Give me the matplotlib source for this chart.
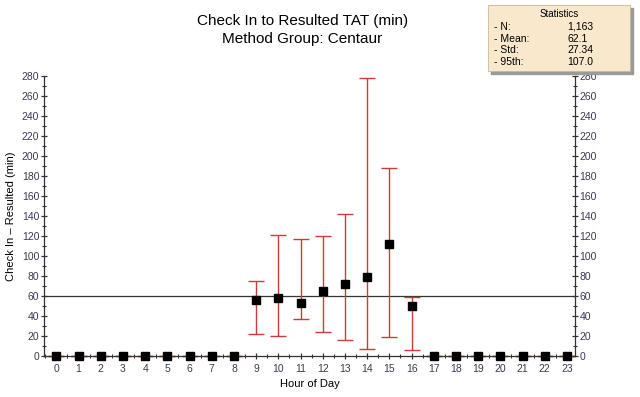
import matplotlib
matplotlib.use("Agg")
import matplotlib.pyplot as plt
from matplotlib.patches import Rectangle
from matplotlib.ticker import MultipleLocator

plt.rcParams['font.family'] = ['Liberation Sans', 'DejaVu Sans']

# --- dane ---
godziny = list(range(24))
srednie = [0, 0, 0, 0, 0, 0, 0, 0, 0, 56, 58, 53, 65, 72, 79, 112, 50,
           0, 0, 0, 0, 0, 0, 0]
gora = [0, 0, 0, 0, 0, 0, 0, 0, 0, 75, 121, 117, 120, 142, 278, 188, 59,
        0, 0, 0, 0, 0, 0, 0]
dol = [0, 0, 0, 0, 0, 0, 0, 0, 0, 22, 20, 37, 24, 16, 7, 19, 6,
       0, 0, 0, 0, 0, 0, 0]
linia_ref = 60
staty_nazwy = ['- N:', '- Mean:', '- Std:', '- 95th:']
staty_wartosci = ['1,163', '62.1', '27.34', '107.0']
# ------------

err_dol = [s - d for s, d in zip(srednie, dol)]
err_gora = [g - s for s, g in zip(srednie, gora)]

fig = plt.figure(figsize=(6.4, 3.97), dpi=100)
ax = fig.add_axes([0.069, 0.103, 0.829, 0.706])

ax.axhline(linia_ref, color='#333333', lw=0.9, zorder=1)
ax.errorbar(godziny, srednie, yerr=[err_dol, err_gora], fmt='none',
            ecolor='#cc3a3a', elinewidth=1.0, capsize=6, capthick=1.0,
            zorder=2, clip_on=False)
ax.plot(godziny, srednie, 's', color='black', ms=6, zorder=3, clip_on=False)

ax.set_xlim(-0.55, 23.35)
ax.set_ylim(0, 280)
ax.set_xticks(godziny)
ax.xaxis.set_minor_locator(MultipleLocator(0.5))
ax.yaxis.set_major_locator(MultipleLocator(20))
ax.yaxis.set_minor_locator(MultipleLocator(10))

ax.spines['top'].set_visible(False)
for s in ['left', 'right', 'bottom']:
    ax.spines[s].set_color('#333333')
    ax.spines[s].set_linewidth(0.9)

ax.tick_params(axis='both', which='major', direction='inout', length=5,
               width=0.9, color='#333333', labelsize=7.5, labelcolor='#3a3a55')
ax.tick_params(axis='both', which='minor', direction='inout', length=3,
               width=0.8, color='#333333')
ax.tick_params(axis='y', which='both', right=True, labelright=True)
ax.tick_params(axis='y', pad=1)
ax.tick_params(axis='x', pad=3)

ax.set_xlabel('Hour of Day', fontsize=8)
ax.set_ylabel('Check In \u2013 Resulted (min)', fontsize=8, labelpad=4)

fig.text(0.472, 0.948, 'Check In to Resulted TAT (min)', ha='center',
         va='center', fontsize=11, weight='medium')
fig.text(0.472, 0.903, 'Method Group: Centaur', ha='center', va='center',
         fontsize=11, weight='medium')

# ramka ze statystykami
x0, y0, w, h = 0.762, 0.822, 0.222, 0.165
fig.patches.append(Rectangle((x0 + 0.005, y0 - 0.008), w, h,
                             transform=fig.transFigure, color='#9a9a9a',
                             zorder=4))
fig.patches.append(Rectangle((x0, y0), w, h, transform=fig.transFigure,
                             facecolor='#f9e8cc', edgecolor='#c8b898',
                             lw=0.6, zorder=5))
fig.text(x0 + w / 2, y0 + h - 0.022, 'Statistics', ha='center', va='center',
         fontsize=7, zorder=6)
for i, (n, v) in enumerate(zip(staty_nazwy, staty_wartosci)):
    yy = y0 + h - 0.055 - i * 0.029
    fig.text(x0 + 0.01, yy, n, ha='left', va='center', fontsize=7.5, zorder=6)
    fig.text(x0 + 0.125, yy, v, ha='left', va='center', fontsize=7.5, zorder=6)

plt.savefig('out.png', dpi=100)
